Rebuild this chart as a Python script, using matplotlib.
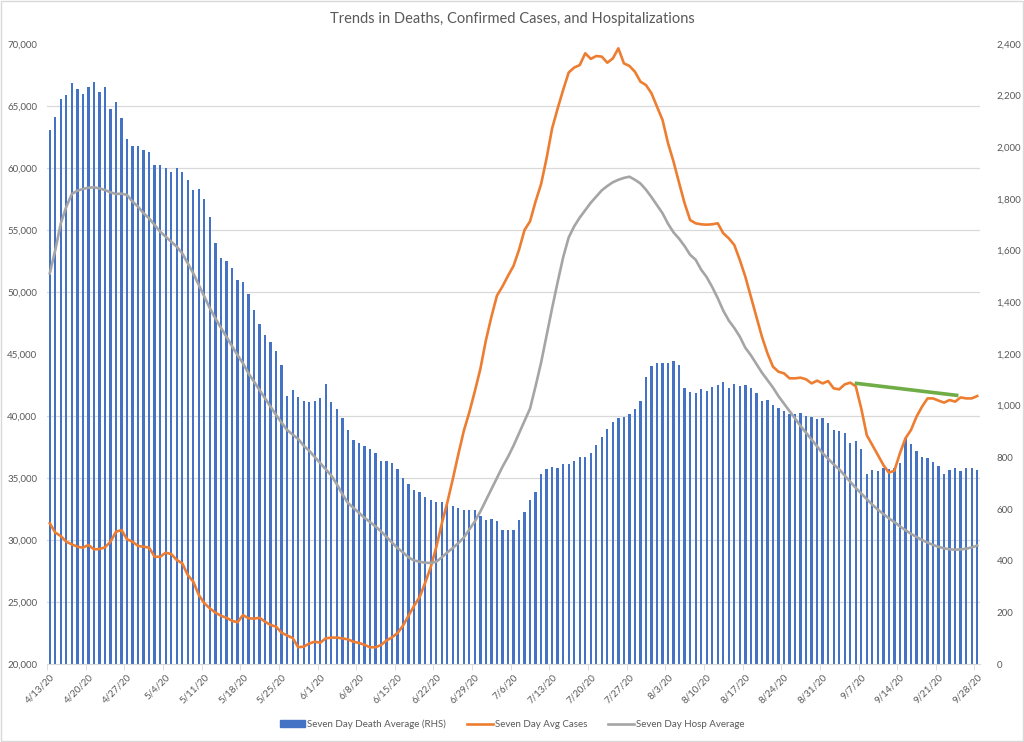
import numpy as np
import pandas as pd
from matplotlib import pyplot as plt
from matplotlib.patches import Rectangle
from matplotlib.lines import Line2D

plt.rcParams['font.family'] = ['Lato', 'DejaVu Sans']

# categories: one per day, 4/13/20 .. 9/28/20
dates = pd.date_range('2020-04-13', '2020-09-28', freq='D')
date_labels = [f'{d.month}/{d.day}/20' for d in dates]

# seven day death average (right axis)
deaths = [2067, 2119, 2187, 2203, 2248, 2226, 2205, 2235, 2253, 2213,
          2232, 2150, 2174, 2115, 2032, 2004, 2006, 1990, 1982, 1930,
          1930, 1921, 1903, 1920, 1906, 1874, 1834, 1840, 1801, 1732,
          1629, 1572, 1561, 1534, 1485, 1479, 1431, 1370, 1317, 1272,
          1245, 1212, 1157, 1039, 1061, 1032, 1019, 1015, 1018, 1028,
          1083, 1015, 986, 953, 906, 867, 854, 845, 832, 815,
          787, 787, 779, 756, 721, 696, 672, 667, 645, 634,
          627, 627, 628, 613, 604, 596, 596, 596, 574, 557,
          560, 552, 519, 518, 519, 557, 587, 635, 666, 735,
          754, 761, 757, 773, 773, 787, 800, 803, 815, 848,
          877, 908, 938, 951, 955, 967, 986, 1018, 1112, 1154,
          1166, 1166, 1166, 1173, 1157, 1067, 1054, 1050, 1065, 1058,
          1071, 1080, 1090, 1067, 1083, 1076, 1080, 1067, 1048, 1018,
          1022, 1003, 992, 979, 968, 967, 973, 961, 957, 948,
          951, 934, 906, 902, 893, 854, 864, 832, 735, 751,
          747, 757, 754, 757, 777, 874, 850, 824, 803, 796,
          781, 766, 735, 751, 757, 747, 757, 757, 751]

# seven day average cases (left axis)
cases = [31350, 30600, 30320, 29860, 29650, 29460, 29380, 29600, 29250, 29270,
         29410, 29860, 30670, 30800, 30060, 29860, 29520, 29460, 29380, 28650,
         28650, 28980, 28870, 28390, 28120, 27180, 26640, 25570, 24900, 24490,
         24140, 23900, 23730, 23490, 23360, 23950, 23690, 23660, 23730, 23410,
         23150, 23010, 22520, 22300, 22100, 21350, 21400, 21650, 21800, 21720,
         22070, 22130, 22130, 22070, 21990, 21800, 21700, 21550, 21350, 21350,
         21530, 21900, 22150, 22500, 23100, 23900, 24700, 25400, 26550, 27800,
         29400, 31300, 33000, 34900, 36900, 38800, 40300, 42000, 43800, 46100,
         48000, 49700, 50450, 51300, 52100, 53400, 55000, 55700, 57300, 58700,
         60800, 63200, 64800, 66300, 67700, 68100, 68300, 69250, 68800, 69030,
         68980, 68490, 68840, 69650, 68440, 68230, 67760, 66960, 66690, 66020,
         64950, 63870, 61990, 60500, 58800, 57150, 55800, 55540, 55460, 55430,
         55460, 55540, 54740, 54330, 53790, 52580, 51230, 49620, 48010, 46400,
         45060, 43980, 43570, 43440, 43040, 43040, 43090, 42960, 42630, 42850,
         42630, 42820, 42230, 42150, 42550, 42690, 42400, 40600, 38450, 37660,
         36860, 36050, 35430, 35590, 36990, 38200, 38870, 39940, 40750, 41420,
         41420, 41240, 41080, 41290, 41160, 41500, 41420, 41420, 41610]

# seven day hospitalisation average (left axis)
hosp = [51508, 53387, 55540, 56880, 57903, 58170, 58306, 58411, 58440, 58360,
        58226, 58037, 57903, 57930, 57822, 57285, 56880, 56346, 55940, 55403,
        54865, 54462, 54058, 53655, 53118, 52312, 51508, 50565, 49622, 48686,
        47880, 47121, 46395, 45645, 44920, 44250, 43440, 42768, 42097, 41424,
        40750, 40081, 39460, 38871, 38500, 38150, 37600, 37200, 36700, 36200,
        35700, 35200, 34500, 33700, 33000, 32600, 32200, 31800, 31450, 31100,
        30700, 30250, 29800, 29350, 29000, 28600, 28350, 28250, 28170, 28150,
        28250, 28600, 29000, 29350, 29750, 30200, 30850, 31500, 32300, 33200,
        34100, 35000, 35900, 36700, 37600, 38600, 39600, 40600, 42400, 44300,
        46500, 48700, 50800, 52800, 54400, 55300, 56000, 56600, 57200, 57700,
        58200, 58550, 58850, 59050, 59200, 59300, 59050, 58750, 58250, 57650,
        57000, 56350, 55500, 54800, 54300, 53700, 53000, 52600, 51800, 51200,
        50400, 49500, 48500, 47700, 47100, 46400, 45500, 44900, 44200, 43500,
        42900, 42300, 41600, 41000, 40400, 39800, 39200, 38650, 38100, 37550,
        37000, 36550, 36100, 35700, 35200, 34700, 34200, 33750, 33300, 32850,
        32450, 32100, 31750, 31450, 31100, 30800, 30500, 30250, 30000, 29800,
        29600, 29450, 29330, 29250, 29220, 29240, 29300, 29400, 29550]

# hand drawn green trend segment (category position, cases)
trend_pos = [145.8, 164.6]
trend_cases = [42650, 41650]

BLUE = '#4472C4'
ORANGE = '#ED7D31'
GREY = '#A5A5A5'
GREEN = '#70AD47'
TXT = '#595959'
GRID = '#D9D9D9'

x = np.arange(len(dates))

fig = plt.figure(figsize=(10.24, 7.42), dpi=100)
ax2 = fig.add_axes([0.0459, 0.1051, 0.9111, 0.8356])
ax = ax2.twinx()
ax.yaxis.tick_left()
ax2.yaxis.tick_right()
ax.set_zorder(2)
ax.patch.set_visible(False)

# bars on the right hand scale
ax2.bar(x, deaths, width=0.42, color=BLUE, zorder=2)
ax2.set_ylim(0, 2400)
ax2.set_yticks(np.arange(0, 2401, 200))
ax2.set_yticklabels([f'{v:,}' for v in range(0, 2401, 200)])
# gridlines follow the left scale (every 5,000 = 240 on the right)
ax2.set_yticks(np.arange(0, 2401, 240), minor=True)
ax2.grid(which='minor', axis='y', color=GRID, linewidth=0.9, zorder=0)
ax2.set_axisbelow(True)
ax2.tick_params(axis='y', which='both', length=0, labelsize=7, labelcolor=TXT, pad=12)

# lines on the left hand scale
ax.plot(x, cases, color=ORANGE, linewidth=1.9, solid_joinstyle='round')
ax.plot(x, hosp, color=GREY, linewidth=1.9, solid_joinstyle='round')
ax.plot(trend_pos, trend_cases, color=GREEN, linewidth=2.6, solid_capstyle='butt')
ax.set_ylim(20000, 70000)
ax.set_yticks(np.arange(20000, 70001, 5000))
ax.set_yticklabels([f'{v:,}' for v in range(20000, 70001, 5000)])
ax.tick_params(axis='y', length=0, labelsize=7, labelcolor=TXT, pad=7)

ax2.set_xlim(-0.5, len(dates) - 0.5)
ax2.set_xticks(x[::7])
ax2.set_xticklabels(date_labels[::7], rotation=45, ha='right', rotation_mode='anchor')
ax2.set_xticks(x[::7] - 0.5, minor=True)
ax2.tick_params(axis='x', which='major', length=0, labelsize=7, labelcolor=TXT, pad=6)
ax2.tick_params(axis='x', which='minor', length=4, color=GRID)

for a in (ax, ax2):
    for s in a.spines.values():
        s.set_visible(False)
ax2.spines['bottom'].set_visible(True)
ax2.spines['bottom'].set_color(GRID)

fig.text(0.5, 0.974, 'Trends in Deaths, Confirmed Cases, and Hospitalizations',
         ha='center', va='center', fontsize=10.5, color=TXT)

handles = [Rectangle((0, 0), 1, 1, color=BLUE),
           Line2D([0], [0], color=ORANGE, linewidth=1.9),
           Line2D([0], [0], color=GREY, linewidth=1.9)]
names = ['Seven Day Death Average (RHS)', 'Seven Day Avg Cases', 'Seven Day Hosp Average']
fig.legend(handles, names, loc='center', bbox_to_anchor=(0.5, 0.024), ncol=3,
           frameon=False, fontsize=7, labelcolor=TXT, handlelength=2.6,
           handleheight=0.6, handletextpad=0.2, columnspacing=2.2)

fig.patches.append(Rectangle((0.001, 0.001), 0.998, 0.998, transform=fig.transFigure,
                             fill=False, edgecolor=GRID, linewidth=1))

fig.savefig('out.png', dpi=100)
